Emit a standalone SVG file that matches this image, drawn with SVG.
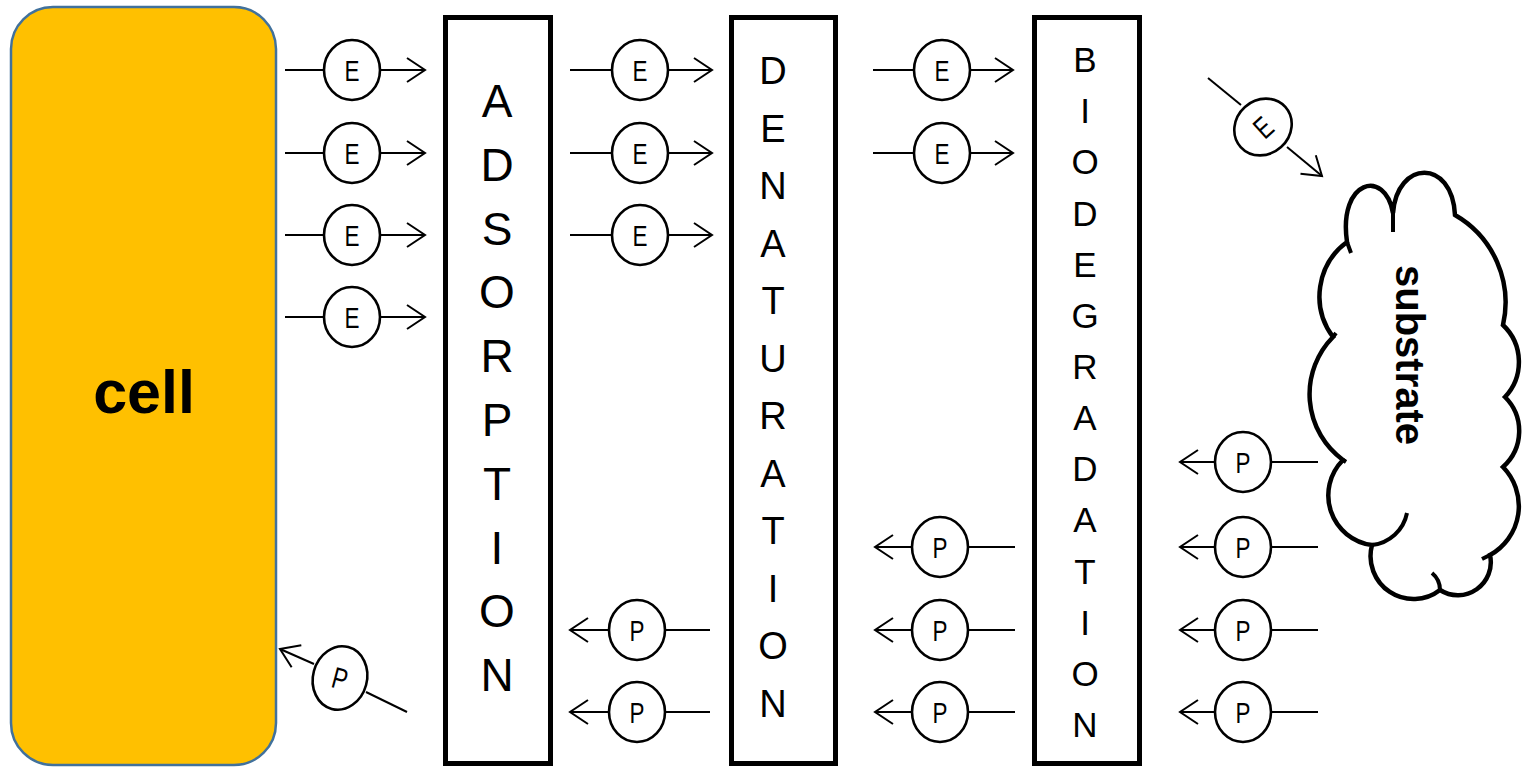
<svg xmlns="http://www.w3.org/2000/svg" width="1523" height="768" viewBox="0 0 1523 768">
<defs>
<style>
.tok{fill:#fff;stroke:#000;stroke-width:2.6}
.tl{font-family:"Liberation Sans",Arial,sans-serif;font-size:30px;text-anchor:middle;fill:#000}
.ln{stroke:#000;stroke-width:2;fill:none}
.box{fill:#fff;stroke:#000;stroke-width:5}
.bl{font-family:"Liberation Sans",Arial,sans-serif;text-anchor:middle;fill:#000}
</style>
<marker id="ah" markerUnits="userSpaceOnUse" markerWidth="24" markerHeight="30" viewBox="-2 -14 24 28" refX="18" refY="0" orient="auto">
<path d="M0,-12 L18,0 L0,12" fill="none" stroke="#000" stroke-width="2"/>
</marker>
</defs>
<rect width="1523" height="768" fill="#fff"/>

<g id="cell">
<rect x="11" y="7" width="265" height="758" rx="42" fill="#FFC000" stroke="#41719C" stroke-width="2.5"/>
<text x="144" y="413" font-family="'Liberation Sans',Arial,sans-serif" font-weight="bold" font-size="61" text-anchor="middle">cell</text>
</g>

<g id="adsorption">
<rect class="box" x="445.5" y="17.5" width="105" height="746"/>
<g class="bl" font-size="46">
<text x="497" y="117">A</text><text x="497" y="181">D</text><text x="497" y="245">S</text><text x="497" y="308">O</text><text x="497" y="372">R</text><text x="497" y="436">P</text><text x="497" y="500">T</text><text x="497" y="564">I</text><text x="497" y="627">O</text><text x="497" y="691">N</text>
</g>
</g>

<g id="denaturation">
<rect class="box" x="731.5" y="17.5" width="104" height="746"/>
<g class="bl" font-size="38">
<text x="773" y="84">D</text><text x="773" y="141.5">E</text><text x="773" y="199">N</text><text x="773" y="256.5">A</text><text x="773" y="314">T</text><text x="773" y="371.5">U</text><text x="773" y="429">R</text><text x="773" y="486.5">A</text><text x="773" y="544">T</text><text x="773" y="601.5">I</text><text x="773" y="659">O</text><text x="773" y="717">N</text>
</g>
</g>

<g id="biodegradation">
<rect class="box" x="1034.5" y="17.5" width="105" height="746"/>
<g class="bl" font-size="35">
<text x="1085" y="72">B</text><text x="1085" y="123">I</text><text x="1085" y="174">O</text><text x="1085" y="226">D</text><text x="1085" y="277">E</text><text x="1085" y="328">G</text><text x="1085" y="379">R</text><text x="1085" y="430">A</text><text x="1085" y="481">D</text><text x="1085" y="532">A</text><text x="1085" y="584">T</text><text x="1085" y="635">I</text><text x="1085" y="686">O</text><text x="1085" y="737">N</text>
</g>
</g>

<g id="substrate">
<path d="M1347,242 C1338,180 1385,168 1393,213 C1397,160 1452,158 1455,215 A101,101 0 0 1 1503,325 A51,51 0 0 1 1505,397 A48,48 0 0 1 1503,467 A56,56 0 0 1 1490,555 A33,33 0 0 1 1440,590 A43,43 0 0 1 1372,545 A50,50 0 0 1 1343,460 A81.5,81.5 0 0 1 1333,337 A67.6,67.6 0 0 1 1347,242 Z" fill="#fff" stroke="#000" stroke-width="4.5"/>
<path d="M1393,213 L1393,232 M1347,242 L1351,253 M1333,337 L1336,333 M1343,460 L1346,462 M1372,545 A40,40 0 0 0 1407,513 M1440,590 A22,22 0 0 0 1432,573 M1490,555 L1482,559" fill="none" stroke="#000" stroke-width="4"/>
<text transform="translate(1396,355) rotate(90)" font-family="'Liberation Sans',Arial,sans-serif" font-weight="bold" font-size="40" text-anchor="middle">substrate</text>
</g>

<g id="connectors">
<path class="ln" d="M285,70H324M285,153H324M285,235H324M285,317H324"/>
<path class="ln" d="M380,70H425" marker-end="url(#ah)"/><path class="ln" d="M380,153H425" marker-end="url(#ah)"/><path class="ln" d="M380,235H425" marker-end="url(#ah)"/><path class="ln" d="M380,317H425" marker-end="url(#ah)"/>
<path class="ln" d="M570,70H612M570,153H612M570,235H612"/>
<path class="ln" d="M668,70H712" marker-end="url(#ah)"/><path class="ln" d="M668,153H712" marker-end="url(#ah)"/><path class="ln" d="M668,235H712" marker-end="url(#ah)"/>
<path class="ln" d="M873,70H914M873,153H914"/>
<path class="ln" d="M970,70H1013" marker-end="url(#ah)"/><path class="ln" d="M970,153H1013" marker-end="url(#ah)"/>
<path class="ln" d="M1208,78L1241,105"/>
<path class="ln" d="M1287,147L1322,176" marker-end="url(#ah)"/>
<path class="ln" d="M1271,462H1318M1271,547H1318M1271,630H1318M1271,712H1318"/>
<path class="ln" d="M1215,462H1180" marker-end="url(#ah)"/><path class="ln" d="M1215,547H1180" marker-end="url(#ah)"/><path class="ln" d="M1215,630H1180" marker-end="url(#ah)"/><path class="ln" d="M1215,712H1180" marker-end="url(#ah)"/>
<path class="ln" d="M968,547H1015M968,630H1015M968,712H1015"/>
<path class="ln" d="M912,547H875" marker-end="url(#ah)"/><path class="ln" d="M912,630H875" marker-end="url(#ah)"/><path class="ln" d="M912,712H875" marker-end="url(#ah)"/>
<path class="ln" d="M665,630H710M665,712H710"/>
<path class="ln" d="M609,630H570" marker-end="url(#ah)"/><path class="ln" d="M609,712H570" marker-end="url(#ah)"/>
<path class="ln" d="M366,692L407,712"/>
<path class="ln" d="M314,664L280,649" marker-end="url(#ah)"/>
</g>

<g id="tokens-e">
<g id="e1"><ellipse class="tok" cx="352" cy="70" rx="28" ry="30"/><text class="tl" x="352" y="81" textLength="15" lengthAdjust="spacingAndGlyphs">E</text></g>
<g id="e2"><ellipse class="tok" cx="352" cy="153" rx="28" ry="30"/><text class="tl" x="352" y="164" textLength="15" lengthAdjust="spacingAndGlyphs">E</text></g>
<g id="e3"><ellipse class="tok" cx="352" cy="235" rx="28" ry="30"/><text class="tl" x="352" y="246" textLength="15" lengthAdjust="spacingAndGlyphs">E</text></g>
<g id="e4"><ellipse class="tok" cx="352" cy="317" rx="28" ry="30"/><text class="tl" x="352" y="328" textLength="15" lengthAdjust="spacingAndGlyphs">E</text></g>
<g id="e5"><ellipse class="tok" cx="640" cy="70" rx="28" ry="30"/><text class="tl" x="640" y="81" textLength="15" lengthAdjust="spacingAndGlyphs">E</text></g>
<g id="e6"><ellipse class="tok" cx="640" cy="153" rx="28" ry="30"/><text class="tl" x="640" y="164" textLength="15" lengthAdjust="spacingAndGlyphs">E</text></g>
<g id="e7"><ellipse class="tok" cx="640" cy="235" rx="28" ry="30"/><text class="tl" x="640" y="246" textLength="15" lengthAdjust="spacingAndGlyphs">E</text></g>
<g id="e8"><ellipse class="tok" cx="942" cy="70" rx="28" ry="30"/><text class="tl" x="942" y="81" textLength="15" lengthAdjust="spacingAndGlyphs">E</text></g>
<g id="e9"><ellipse class="tok" cx="942" cy="153" rx="28" ry="30"/><text class="tl" x="942" y="164" textLength="15" lengthAdjust="spacingAndGlyphs">E</text></g>
<g id="e10" transform="translate(1263,127) rotate(-42)"><ellipse class="tok" cx="0" cy="0" rx="30" ry="27"/><text class="tl" x="0" y="11" textLength="15" lengthAdjust="spacingAndGlyphs">E</text></g>
</g>

<g id="tokens-p">
<g id="p1"><ellipse class="tok" cx="1243" cy="462" rx="28" ry="30"/><text class="tl" x="1243" y="473" textLength="15" lengthAdjust="spacingAndGlyphs">P</text></g>
<g id="p2"><ellipse class="tok" cx="1243" cy="547" rx="28" ry="30"/><text class="tl" x="1243" y="558" textLength="15" lengthAdjust="spacingAndGlyphs">P</text></g>
<g id="p3"><ellipse class="tok" cx="1243" cy="630" rx="28" ry="30"/><text class="tl" x="1243" y="641" textLength="15" lengthAdjust="spacingAndGlyphs">P</text></g>
<g id="p4"><ellipse class="tok" cx="1243" cy="712" rx="28" ry="30"/><text class="tl" x="1243" y="723" textLength="15" lengthAdjust="spacingAndGlyphs">P</text></g>
<g id="p5"><ellipse class="tok" cx="940" cy="547" rx="28" ry="30"/><text class="tl" x="940" y="558" textLength="15" lengthAdjust="spacingAndGlyphs">P</text></g>
<g id="p6"><ellipse class="tok" cx="940" cy="630" rx="28" ry="30"/><text class="tl" x="940" y="641" textLength="15" lengthAdjust="spacingAndGlyphs">P</text></g>
<g id="p7"><ellipse class="tok" cx="940" cy="712" rx="28" ry="30"/><text class="tl" x="940" y="723" textLength="15" lengthAdjust="spacingAndGlyphs">P</text></g>
<g id="p8"><ellipse class="tok" cx="637" cy="630" rx="28" ry="30"/><text class="tl" x="637" y="641" textLength="15" lengthAdjust="spacingAndGlyphs">P</text></g>
<g id="p9"><ellipse class="tok" cx="637" cy="712" rx="28" ry="30"/><text class="tl" x="637" y="723" textLength="15" lengthAdjust="spacingAndGlyphs">P</text></g>
<g id="p10" transform="translate(340,678) rotate(15)"><ellipse class="tok" cx="0" cy="0" rx="27" ry="32"/><text class="tl" x="0" y="11" textLength="15" lengthAdjust="spacingAndGlyphs">P</text></g>
</g>
</svg>
